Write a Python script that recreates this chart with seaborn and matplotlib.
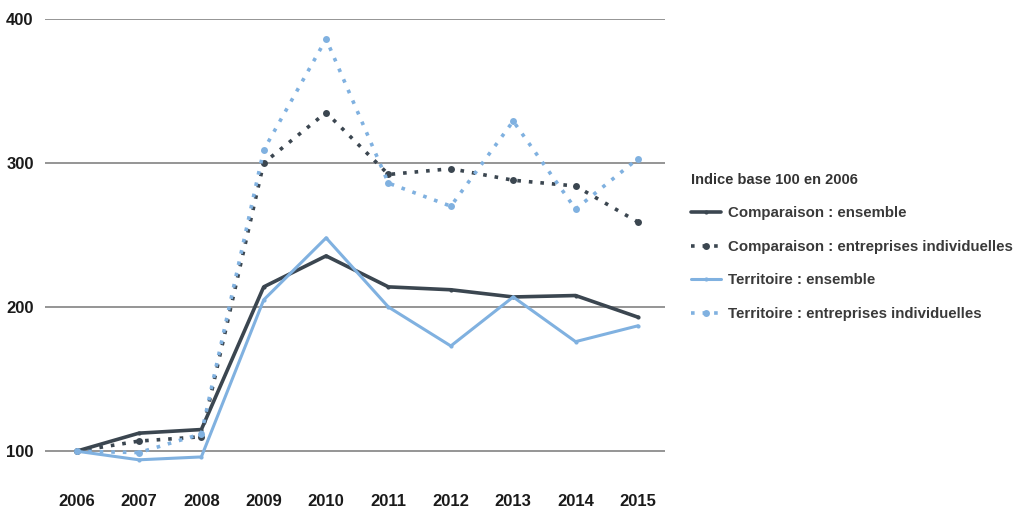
import matplotlib
matplotlib.use("Agg")
import matplotlib.pyplot as plt
import seaborn as sns
import pandas as pd

years = [2006, 2007, 2008, 2009, 2010, 2011, 2012, 2013, 2014, 2015]
comparaison_ensemble = [100, 112.5, 115, 214, 235.5, 214, 212, 207, 208, 193]
comparaison_ei = [100, 107, 110, 300, 335, 292, 296, 288, 284, 259]
territoire_ensemble = [100, 94, 96, 205, 248, 200, 173, 207, 176, 187]
territoire_ei = [100, 99, 112, 309, 386, 286, 270, 329, 268, 303]

labels = [
    "Comparaison : ensemble",
    "Comparaison : entreprises individuelles",
    "Territoire : ensemble",
    "Territoire : entreprises individuelles",
]
legend_title = "Indice base 100 en 2006"

dark = "#3b4650"
light = "#80b1e0"

sns.set_theme(style="white")
plt.rcParams["font.family"] = ["Liberation Sans", "DejaVu Sans"]

fig = plt.figure(figsize=(10.18, 5.09), dpi=100)
ax = fig.add_axes([0.044, 0.057, 0.609, 0.906])

series = [
    (comparaison_ensemble, labels[0], dark, "-", 2.6, 3),
    (comparaison_ei, labels[1], dark, (0, (1, 2.2)), 2.6, 5),
    (territoire_ensemble, labels[2], light, "-", 2.2, 3),
    (territoire_ei, labels[3], light, (0, (1, 2.2)), 2.6, 5),
]

for values, label, color, ls, lw, ms in series:
    df = pd.DataFrame({"year": years, "value": values})
    sns.lineplot(data=df, x="year", y="value", ax=ax, color=color, linestyle=ls,
                 linewidth=lw, marker="o", markersize=ms, markeredgewidth=0,
                 label=label, clip_on=False, zorder=3)

ax.set_xlim(2005.49, 2015.43)
ax.set_ylim(80, 400)
ax.set_yticks([100, 200, 300, 400])
ax.set_xticks(years)
ax.set_xlabel("")
ax.set_ylabel("")
ax.grid(axis="y", color="#8c8c8c", linewidth=1.3, zorder=0)
ax.grid(axis="x", visible=False)
for s in ax.spines.values():
    s.set_visible(False)
ax.tick_params(axis="both", length=0, labelsize=12, colors="#1a1a1a")
ax.tick_params(axis="x", pad=10)
ax.tick_params(axis="y", pad=8)
for t in ax.get_xticklabels() + ax.get_yticklabels():
    t.set_fontweight("bold")

leg = ax.legend(title=legend_title, loc="upper left", bbox_to_anchor=(1.02, 0.695),
                frameon=False, fontsize=10.8, title_fontsize=10.5,
                handlelength=2.0, handletextpad=0.5, labelspacing=1.3,
                alignment="left")
leg.get_title().set_fontweight("bold")
leg.get_title().set_color("#333333")
for t in leg.get_texts():
    t.set_fontweight("bold")
    t.set_color("#3a3a3a")

fig.savefig("out.png", dpi=100)
